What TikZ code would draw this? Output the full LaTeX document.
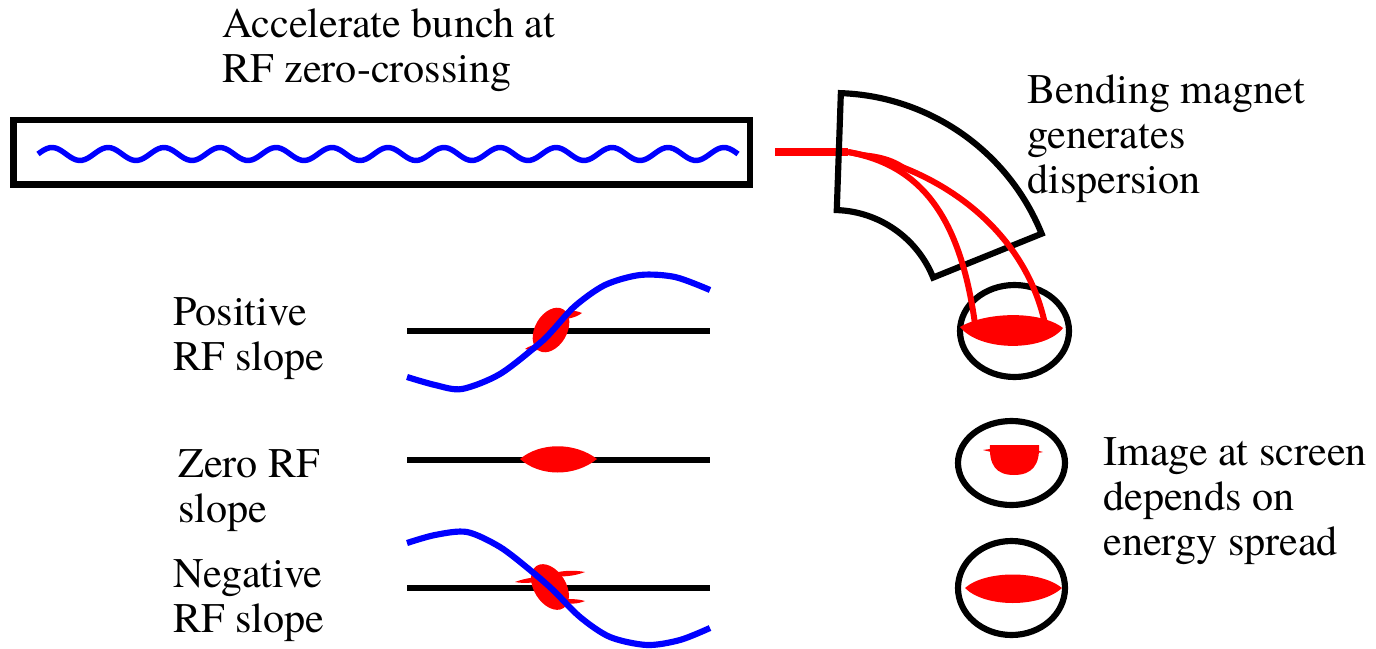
\documentclass[tikz,border=0pt]{standalone}
\usepackage{fontspec}
\setmainfont{texgyretermes-regular.otf}
\usetikzlibrary{calc}
\definecolor{rfblue}{HTML}{0000FF}
\definecolor{beamred}{HTML}{FF0000}
\begin{document}
\begin{tikzpicture}[x=.02cm,y=-.02cm,
 lbl/.style={anchor=base west,inner sep=0,align=left,font=\fontsize{24}{25.5}\selectfont},
 wall/.style={line width=3.5pt},
 rf/.style={rfblue,line width=3.5pt},
 beam/.style={beamred,line width=3.4pt},
 blob/.style={fill=beamred}]
\useasboundingbox(0,0)rectangle(1376,649);
% linac
\draw[wall](13.5,120)rectangle(750,184.5);
\draw[rfblue,line width=3.1pt]plot[domain=38:738,samples=240](\x,{154-6.5*sin(6.4286*(\x-38))});
\node[lbl](linac)at(222,82){Accelerate bunch at\\RF zero-crossing};
% beam into the dipole
\coordinate(beamin)at(775,152);\coordinate(magin)at(848,152);
\draw[beamred,line width=4pt](beamin)--(magin);
\coordinate(mc)at(833,318);
\draw[wall]([shift={(-88:225)}]mc)arc[start angle=-88,end angle=-22,radius=225]
 --([shift={(-22:108)}]mc)arc[start angle=-22,end angle=-88,radius=108]--cycle;
\node[lbl](magtxt)at(1027,193){Bending magnet\\generates\\dispersion};
% screens
\draw[wall](1014.5,331)ellipse[x radius=54.5,y radius=46];
\draw[wall](1011.5,463)ellipse[x radius=53.5,y radius=42];
\draw[wall](1011.5,588)ellipse[x radius=53.5,y radius=47];
\coordinate(hi)at(1045,324);\coordinate(lo)at(975,324);
\fill[beamred](magin)..controls(880,151)and(903,160)..(913,173)..controls(895,167)and(870,158)..cycle;
\draw[beam](magin)..controls(940,168)and(1025,230)..(hi);
\draw[beam](magin)..controls(920,165)and(960,215)..(lo);
\fill[blob](960,327)..controls(985,312)and(1040,310)..(1063,328)..controls(1045,352)and(980,352)..cycle;
\fill[blob](983,450)..controls(1000,447)and(1030,448)..(1043,452)..controls(1030,455)and(1000,455)..cycle;
\fill[blob](990,445)--(1039,445)..controls(1040,465)and(1032,475)..(1014,475)..controls(996,475)and(989,465)..cycle;
\fill[blob](965,588)..controls(985,570)and(1040,570)..(1062,588)..controls(1040,608)and(985,608)..cycle;
\node[lbl](scrtxt)at(1103,555){Image at screen\\depends on\\energy spread};
% rf phase sketches
\draw[wall](407,331)--(710,331);
\fill[blob,shift={(551,330)},rotate=60](0,0)ellipse[x radius=24,y radius=16];
\fill[blob](556,316)..controls(565,309)and(575,310)..(582,313)..controls(575,318)and(565,321)..cycle;
\fill[blob](525,349)..controls(532,344)and(542,343)..(548,344)..controls(545,350)and(535,352)..cycle;
\draw[rf]plot[smooth]coordinates{(407,377)(435,385)(462,389)(500,374)(540,343)(553,330)(575,306)(605,285)(640,275)(675,277)(710,290)};
\node[lbl](pos)at(173,370){Positive\\RF slope};
\draw[wall](407,460)--(710,460);
\fill[blob](520,459)..controls(540,442)and(575,442)..(597,459)..controls(575,477)and(540,477)..cycle;
\node[lbl](zero)at(178,522){Zero RF\\slope};
\draw[wall](407,588)--(710,588);
\fill[blob,shift={(550,587)},rotate=-58](0,0)ellipse[x radius=25,y radius=16];
\fill[blob](515,582)..controls(525,578)and(540,576)..(548,577)..controls(540,583)and(525,584)..cycle;
\fill[blob](548,575)..controls(560,570)and(575,570)..(585,572)..controls(575,576)and(560,578)..cycle;
\fill[blob](558,601)..controls(568,598)and(578,599)..(585,601)..controls(578,604)and(568,605)..cycle;
\draw[rf]plot[smooth]coordinates{(407,543)(435,535)(467,532)(500,547)(530,570)(553,590)(580,617)(610,637)(647,645)(680,640)(710,628)};
\node[lbl](neg)at(173,632){Negative\\RF slope};
\end{tikzpicture}
\end{document}
